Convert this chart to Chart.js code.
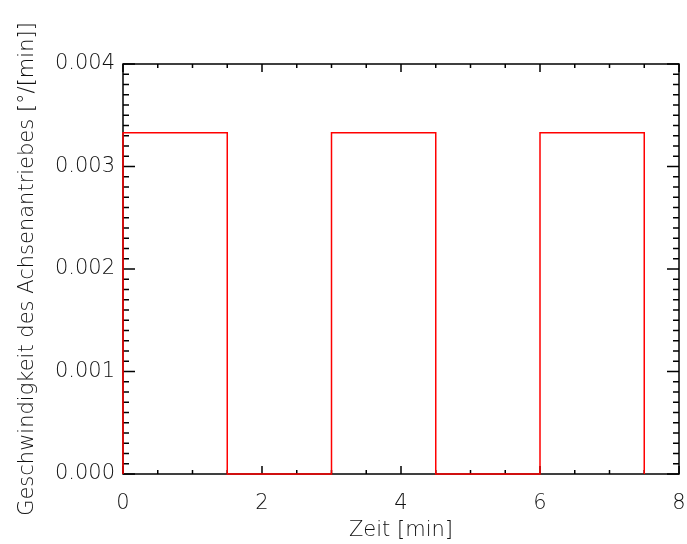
<!DOCTYPE html>
<html>
<head>
<meta charset="utf-8">
<script src="https://cdn.jsdelivr.net/npm/chart.js@4"></script>
<style>
  body { margin: 0; background: #fff; }
  canvas { display: block; }
</style>
</head>
<body>
<canvas id="speedChart" width="687" height="544"></canvas>
<script>
// axis speed over time (square wave, on/off every 1.5 min)
const times = [0, 0, 1.5, 1.5, 3, 3, 4.5, 4.5, 6, 6, 7.5, 7.5];
const speed = [0, 0.00333, 0.00333, 0, 0, 0.00333, 0.00333, 0, 0, 0.00333, 0.00333, 0];

const xTicks = [0, 2, 4, 6, 8];
const yTicks = [0, 0.001, 0.002, 0.003, 0.004];
const xMinorStep = 0.5;
const yMinorStep = 0.0001;

const xTitle = "Zeit [min]";
const yTitle = "Geschwindigkeit des Achsenantriebes [°/[min]]";

const textFont = { family: "DejaVu Sans", size: 21, weight: 200 };
const textColor = "#111";

// frame with inward ticks on all four sides
const framePlugin = {
    id: "frame",
    beforeDatasetsDraw(chart) {
        const ctx = chart.ctx;
        const a = chart.chartArea;
        const xs = chart.scales.x;
        const ys = chart.scales.y;
        ctx.save();
        ctx.strokeStyle = "#000";
        ctx.lineWidth = 1.5;
        ctx.strokeRect(a.left, a.top, a.right - a.left, a.bottom - a.top);

        ctx.beginPath();
        let n = Math.round((xs.max - xs.min) / xMinorStep);
        for (let i = 0; i <= n; i++) {
            let v = xs.min + i * xMinorStep;
            let px = xs.getPixelForValue(v);
            let len = xTicks.some(t => Math.abs(t - v) < 1e-9) ? 8 : 4;
            ctx.moveTo(px, a.bottom);
            ctx.lineTo(px, a.bottom - len);
            ctx.moveTo(px, a.top);
            ctx.lineTo(px, a.top + len);
        }
        n = Math.round((ys.max - ys.min) / yMinorStep);
        for (let i = 0; i <= n; i++) {
            let v = ys.min + i * yMinorStep;
            let py = ys.getPixelForValue(v);
            let len = yTicks.some(t => Math.abs(t - v) < 1e-9) ? 12 : 6;
            ctx.moveTo(a.left, py);
            ctx.lineTo(a.left + len, py);
            ctx.moveTo(a.right, py);
            ctx.lineTo(a.right - len, py);
        }
        ctx.stroke();
        ctx.restore();
    }
};

let ctx = document.getElementById("speedChart").getContext("2d");

new Chart(ctx, {
    type: "line",
    data: {
        datasets: [{
            data: times.map((t, i) => ({ x: t, y: speed[i] })),
            borderColor: "#ff0000",
            borderWidth: 1.5,
            pointRadius: 0,
            fill: false,
            tension: 0,
            clip: false
        }]
    },
    options: {
        responsive: false,
        animation: false,
        events: [],
        layout: { padding: { top: 64, right: 8, bottom: 0, left: 0 } },
        plugins: {
            legend: { display: false },
            tooltip: { enabled: false }
        },
        scales: {
            x: {
                type: "linear",
                min: 0,
                max: 8,
                afterBuildTicks: s => { s.ticks = xTicks.map(v => ({ value: v })); },
                afterFit: s => {
                    s.height = 70;
                    s.paddingLeft = 0;
                    s.paddingRight = 0;
                },
                grid: { display: false, drawTicks: false },
                border: { display: false },
                ticks: {
                    padding: 17,
                    color: textColor,
                    font: textFont,
                    maxRotation: 0,
                    callback: v => String(v)
                },
                title: {
                    display: true,
                    text: xTitle,
                    color: textColor,
                    font: textFont,
                    padding: { top: 0, bottom: 1 }
                }
            },
            y: {
                type: "linear",
                min: 0,
                max: 0.004,
                afterBuildTicks: s => { s.ticks = yTicks.map(v => ({ value: v })); },
                afterFit: s => {
                    s.width = 123;
                    s.paddingTop = 0;
                    s.paddingBottom = 0;
                },
                grid: { display: false, drawTicks: false },
                border: { display: false },
                ticks: {
                    padding: 8,
                    color: textColor,
                    font: textFont,
                    callback: v => v.toFixed(3)
                },
                title: {
                    display: true,
                    text: yTitle,
                    color: textColor,
                    font: textFont,
                    padding: { top: 15, bottom: 0 }
                }
            }
        }
    },
    plugins: [framePlugin]
});
</script>
</body>
</html>
